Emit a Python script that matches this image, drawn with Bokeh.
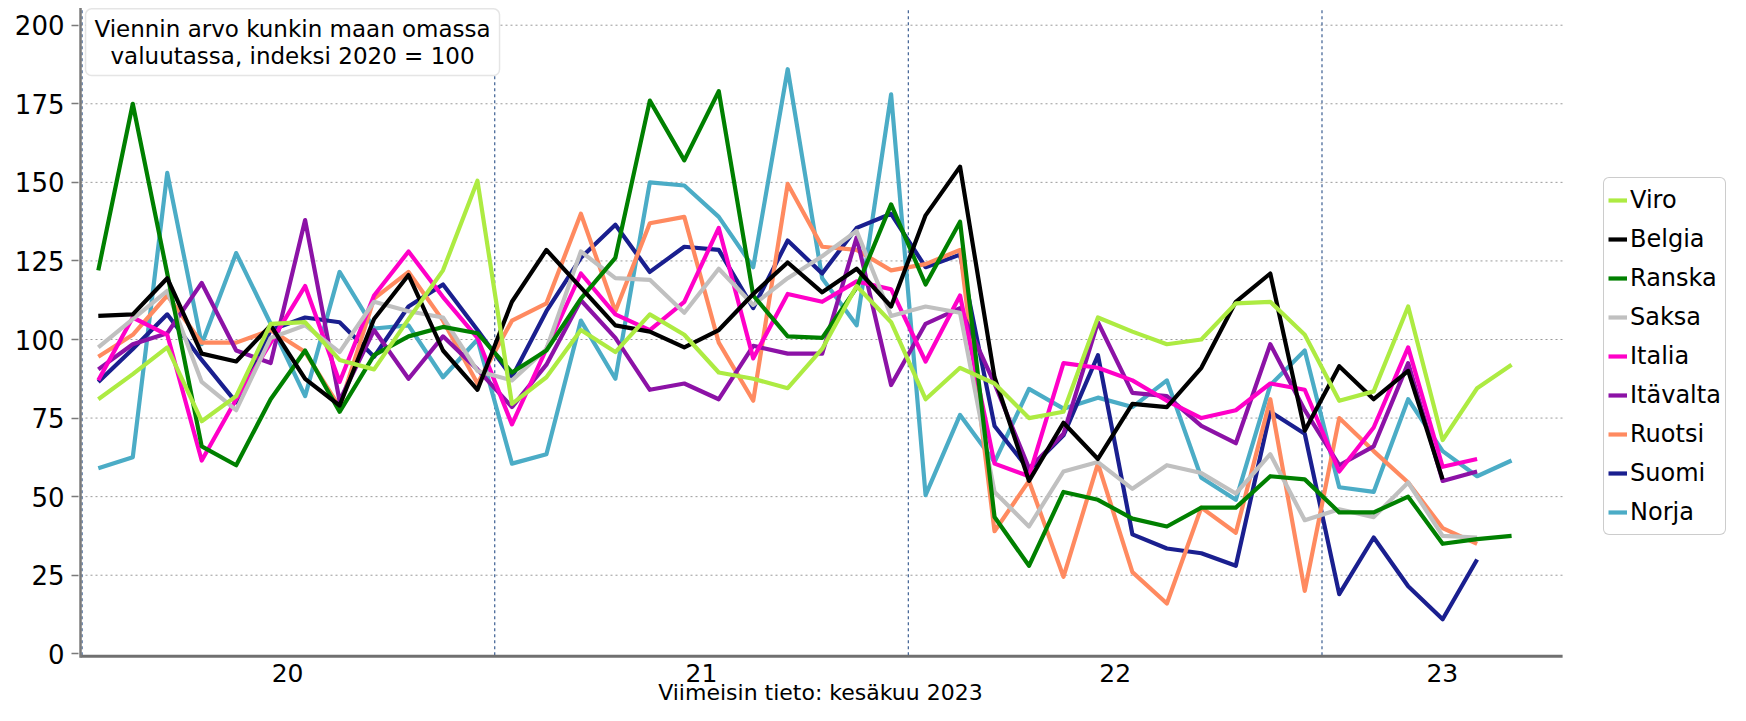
from bokeh.plotting import figure
from bokeh.models import (BoxAnnotation, Label, Legend, LegendItem,
                          FixedTicker, Range1d, ColumnDataSource)
from bokeh.embed import file_html
from bokeh.resources import INLINE
from bokeh.core.properties import value

# Monthly observations, Jan 2020 (index 0) ... Jun 2023 (index 41)
year_labels = ["20", "21", "22", "23"]
series_names = ["Viro", "Belgia", "Ranska", "Saksa", "Italia", "Itävalta", "Ruotsi", "Suomi", "Norja"]

viro = [81, 89, 97.5, 74, 82, 105, 105.5, 93.5, 90.5, 106.5, 122, 150.5,
        79.5, 88, 103, 96, 108, 101.5, 89.5, 87.5, 84.5, 97, 117, 105.5,
        81, 91, 86, 75, 77, 107, 102.5, 98.5, 100, 111.5, 112, 101.5,
        80.5, 83.5, 110.5, 68, 84.5, 92]
belgia = [107.5, 108, 119.5, 95.5, 93, 104.5, 87.5, 79, 106.5, 120.5, 96.5, 84,
          112, 128.5, 116.5, 104.5, 102.5, 97.5, 103, 114.5, 124.5, 115, 122.5, 110.5,
          139.5, 155, 88, 55, 73.5, 62, 79.5, 78.5, 91, 112, 121, 71,
          91.5, 81, 90, 55.5]
ranska = [122, 175, 121, 66, 60, 81, 96.5, 77, 95, 101, 104, 102,
          89.5, 96.5, 113, 126, 176, 157, 179, 114, 101, 100.5, 116.5, 143,
          117.5, 137.5, 43.5, 28, 51.5, 49, 43, 40.5, 46.5, 46.5, 56.5, 55.5,
          45, 45, 50, 35, 36.5, 37.5]
saksa = [97.5, 106.5, 115.5, 86.5, 77.5, 100.5, 104.5, 96, 112, 109, 107, 90,
         87, 97, 128, 119.5, 119, 108.5, 122.5, 111, 119.5, 126.5, 134.5, 107.5,
         110.5, 108.5, 51.5, 40.5, 58, 61, 52.5, 60, 57.5, 51, 63.5, 42.5,
         46, 43.5, 54.5, 37.5, 37]
italia = [87, 107, 101.5, 61.5, 81, 99, 117, 86.5, 114, 128, 113.5, 100.5,
          73, 97, 121, 108, 103, 112, 135.5, 94, 114.5, 112, 118.5, 116,
          93, 114, 60.5, 56.5, 92.5, 91, 87, 80.5, 75, 77.5, 86, 84,
          58, 72, 97.5, 59.5, 62]
itavalta = [90.5, 98.5, 102, 118, 96.5, 92.5, 138, 80.5, 103, 87.5, 101, 90.5,
            78.5, 92, 112.5, 100.5, 84, 86, 81, 98, 95.5, 95.5, 132.5, 85.5,
            105, 110, 86, 59, 70, 105.5, 83, 82, 72.5, 67, 98.5, 77.5,
            60, 66, 92.5, 55, 58]
ruotsi = [94.5, 101.5, 114, 99, 99, 103, 96, 78.5, 113, 121.5, 106, 86,
          106, 111.5, 140, 109, 137, 139, 99, 80.5, 149.5, 129.5, 128.5, 122,
          124, 128.5, 39, 55, 24.5, 60.5, 26, 16, 46.5, 38.5, 81, 20,
          75, 64.5, 54.5, 40, 35]
suomi = [86.5, 97, 108, 93.5, 80, 103, 107, 105.5, 94.5, 110.5, 117.5, 103,
         88, 109, 126, 136.5, 121.5, 129.5, 128.5, 110, 131.5, 121, 135.5, 140,
         123, 127, 72.5, 58.5, 69.5, 95, 38, 33.5, 32, 28, 77, 70,
         19, 37, 21.5, 11, 30]
norja = [59, 62.5, 153, 98.5, 127.5, 105, 82, 121.5, 103.5, 104.5, 88, 100,
         60.5, 63.5, 106, 87.5, 150, 149, 139, 123, 186, 119.5, 104.5, 178,
         50.5, 76, 61, 84.3, 78, 81.5, 78.5, 87, 56, 49, 85.5, 96.5,
         53, 51.5, 81, 64.5, 56.5, 61.5]

colors = ["#ADEB42", "#000000", "#008000", "#C0C0C0", "#FF00C8",
          "#8C12A6", "#FF8A60", "#1A1F8F", "#4BACC6"]
all_series = [viro, belgia, ranska, saksa, italia, itavalta, ruotsi, suomi, norja]
y_ticks = [0, 25, 50, 75, 100, 125, 150, 175, 200]

FONT = "DejaVu Sans"
# visible plotting area (months); frame extended to the right to hold the legend
X0, X1 = -0.516, 42.48
Y0, YTOP = -0.45, 205.5
year_bounds = [X0, 11.5, 23.5, 35.5, X1]

p = figure(width=1730, height=705, output_backend="svg", toolbar_location=None,
           x_range=Range1d(-0.5744, 47.351), y_range=Range1d(-16.45, 207.86),
           x_axis_location=None,
           min_border_left=78, min_border_right=0, min_border_top=0,
           min_border_bottom=0)
p.outline_line_color = None
p.background_fill_color = "white"
p.border_fill_color = "white"
p.xgrid.visible = False
p.ygrid.visible = False

# horizontal dotted grid lines, limited to plot area
gl = [t for t in y_ticks if t > 0]
p.segment(x0=[X0] * len(gl), y0=gl, x1=[X1] * len(gl), y1=gl,
          line_color="#9A9A9A", line_dash="2 3", line_width=1)

# year dividers
divs = [-0.47] + year_bounds[1:4]
p.segment(x0=divs, y0=[Y0] * len(divs), x1=divs, y1=[YTOP] * len(divs),
          line_color="#4A6A9A", line_dash="3 3", line_width=1.3)

# y axis (ticks and labels only; line drawn below)
p.yaxis.ticker = FixedTicker(ticks=y_ticks)
p.yaxis.axis_line_color = None
p.yaxis.major_tick_line_color = "#7A7A7A"
p.yaxis.major_tick_line_width = 1.5
p.yaxis.major_tick_out = 7
p.yaxis.major_tick_in = 0
p.yaxis.minor_tick_line_color = None
p.yaxis.major_label_standoff = 7
p.yaxis.major_label_text_font = FONT
p.yaxis.major_label_text_font_size = "26px"
p.yaxis.major_label_text_color = "#000000"

# lines (drawn last-to-first so that Viro ends on top)
renderers = {}
for name, ys, col in reversed(list(zip(series_names, all_series, colors))):
    src = ColumnDataSource(dict(x=list(range(len(ys))), y=ys))
    renderers[name] = p.line("x", "y", source=src, line_color=col, line_width=4.2,
                             line_join="round")
items = [LegendItem(label=n, renderers=[renderers[n]]) for n in series_names]

# axis lines
p.segment(x0=[X0], y0=[Y0 - 0.3], x1=[X1], y1=[Y0 - 0.3], line_color="#707070", line_width=3)
p.segment(x0=[X0], y0=[Y0 - 0.8], x1=[X0], y1=[YTOP], line_color="#7A7A7A", line_width=2.5)

# year labels centred in each visible year segment
mids = [(year_bounds[k] + year_bounds[k + 1]) / 2 for k in range(4)]
p.text(x=mids, y=[-6.2] * 4, text=year_labels, text_align="center",
       text_baseline="middle", text_font=value(FONT), text_font_size="25px",
       text_color="#000000")
p.add_layout(Label(x=20.95, y=-12.4, text="Viimeisin tieto: kesäkuu 2023",
                   text_align="center", text_baseline="middle", text_font=FONT,
                   text_font_size="22px", text_color="#000000"))

# title box
box = BoxAnnotation(left=-0.37, right=11.64, top=205.2, bottom=184,
                    fill_color="white", fill_alpha=1.0,
                    line_color="#A8A8A8", line_width=1.5)
try:
    box.border_radius = 6
except Exception:
    pass
p.add_layout(box)
for txt, yy in [("Viennin arvo kunkin maan omassa", 198.9),
                ("valuutassa, indeksi 2020 = 100", 190.1)]:
    p.add_layout(Label(x=5.635, y=yy, text=txt, text_align="center",
                       text_baseline="middle", text_font=FONT,
                       text_font_size="23px", text_color="#000000"))

legend = Legend(items=items, location=(1525, 170), orientation="vertical")
legend.label_text_font = FONT
legend.label_text_font_size = "24px"
legend.label_text_color = "#000000"
legend.glyph_width = 19
legend.glyph_height = 36
legend.label_height = 36
legend.label_standoff = 3
legend.spacing = 3
legend.padding = 4
legend.margin = 0
legend.border_line_color = "#9A9A9A"
legend.border_line_width = 1.5
legend.background_fill_color = "white"
legend.background_fill_alpha = 1.0
try:
    legend.border_radius = 6
except Exception:
    pass
p.add_layout(legend)

open("out.html", "w").write(file_html(p, INLINE))
